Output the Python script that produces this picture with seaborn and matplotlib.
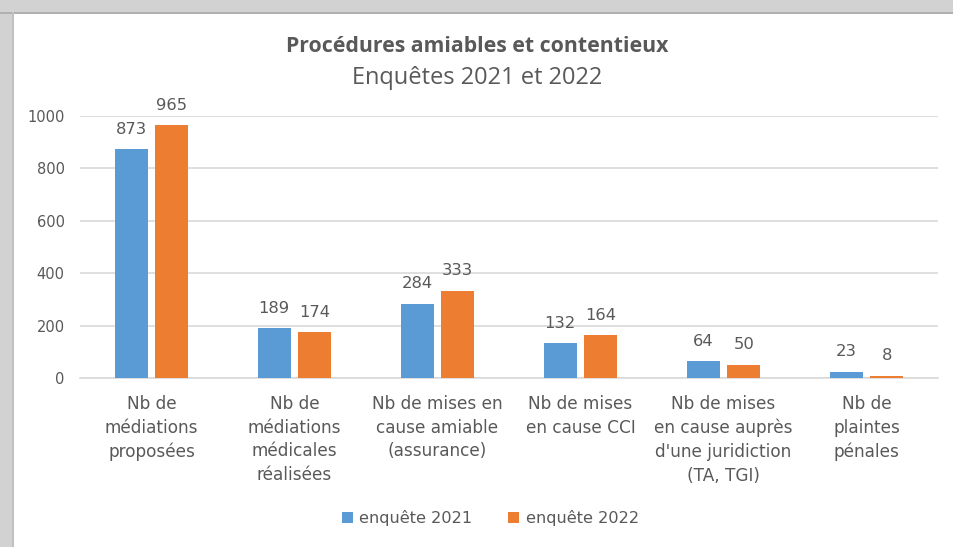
import matplotlib
matplotlib.use("Agg")
import matplotlib.pyplot as plt
import seaborn as sns
import pandas as pd
from matplotlib.patches import Rectangle

categories = ["Nb de\nmédiations\nproposées",
              "Nb de\nmédiations\nmédicales\nréalisées",
              "Nb de mises en\ncause amiable\n(assurance)",
              "Nb de mises\nen cause CCI",
              "Nb de mises\nen cause auprès\nd'une juridiction\n(TA, TGI)",
              "Nb de\nplaintes\npénales"]
values_2021 = [873, 189, 284, 132, 64, 23]
values_2022 = [965, 174, 333, 164, 50, 8]
series = ["enquête 2021", "enquête 2022"]
yticks = [0, 200, 400, 600, 800, 1000]

df = pd.DataFrame({
    "cat": categories * 2,
    "val": values_2021 + values_2022,
    "serie": [series[0]] * len(categories) + [series[1]] * len(categories),
})

sns.set_style("white")
plt.rcParams["font.family"] = ["DejaVu Sans"]
txt = "#595959"

fig = plt.figure(figsize=(9.54, 5.47), dpi=100)
fig.patch.set_facecolor("white")
# frame shadow
fig.patches.append(Rectangle((0, 1 - 12/547), 1, 12/547, transform=fig.transFigure,
                             facecolor="#d2d2d2", edgecolor="none", zorder=0))
fig.patches.append(Rectangle((0, 0), 12/954, 1, transform=fig.transFigure,
                             facecolor="#d2d2d2", edgecolor="none", zorder=0))
fig.patches.append(Rectangle((0, 1 - 14/547), 1, 2/547, transform=fig.transFigure,
                             facecolor="#b0b0b0", edgecolor="none", zorder=0))
fig.patches.append(Rectangle((12/954, 0), 2/954, 1 - 12/547, transform=fig.transFigure,
                             facecolor="#c0c0c0", edgecolor="none", zorder=0))

ax = fig.add_axes([80/954, 1 - 378/547, (938 - 80)/954, (378 - 116)/547])
sns.barplot(data=df, x="cat", y="val", hue="serie", ax=ax,
            palette=["#5B9BD5", "#ED7D31"], width=0.566, gap=0.185,
            saturation=1, zorder=3, legend=True, linewidth=0)

ax.set_ylim(0, 1000)
ax.set_xlim(-0.5, 5.5)
ax.set_yticks(yticks)
ax.set_yticklabels([str(t) for t in yticks], fontsize=10.5, color=txt)
ax.yaxis.grid(True, color="#d9d9d9", linewidth=1.2, zorder=0)
ax.set_axisbelow(True)
for s in ["top", "right", "left"]:
    ax.spines[s].set_visible(False)
ax.spines["bottom"].set_color("#d9d9d9")
ax.spines["bottom"].set_linewidth(1.2)
ax.tick_params(axis="y", length=0, pad=11)
ax.tick_params(axis="x", length=0, pad=12)
ax.set_xticks(range(len(categories)))
ax.set_xticklabels(categories, fontsize=12.2, color=txt, linespacing=1.42, va="top")
ax.set_xlabel("")
ax.set_ylabel("")

for cont in ax.containers:
    ax.bar_label(cont, fontsize=11.8, color=txt, padding=9)

leg = ax.legend(loc="center", bbox_to_anchor=(0.478, -0.535), ncol=2, frameon=False,
                fontsize=11.6, handlelength=0.7, handleheight=0.7, handletextpad=0.4,
                columnspacing=2.2)
for t in leg.get_texts():
    t.set_color(txt)

fig.text(0.5, 1 - 46/547, "Procédures amiables et contentieux", ha="center", va="center",
         fontsize=15.3, fontweight="bold", color=txt, family=["Open Sans", "DejaVu Sans"])
fig.text(0.5, 1 - 78/547, "Enquêtes 2021 et 2022", ha="center", va="center",
         fontsize=17, color=txt, family=["Open Sans", "DejaVu Sans"])

fig.savefig("out.png", dpi=100, facecolor=fig.get_facecolor())
